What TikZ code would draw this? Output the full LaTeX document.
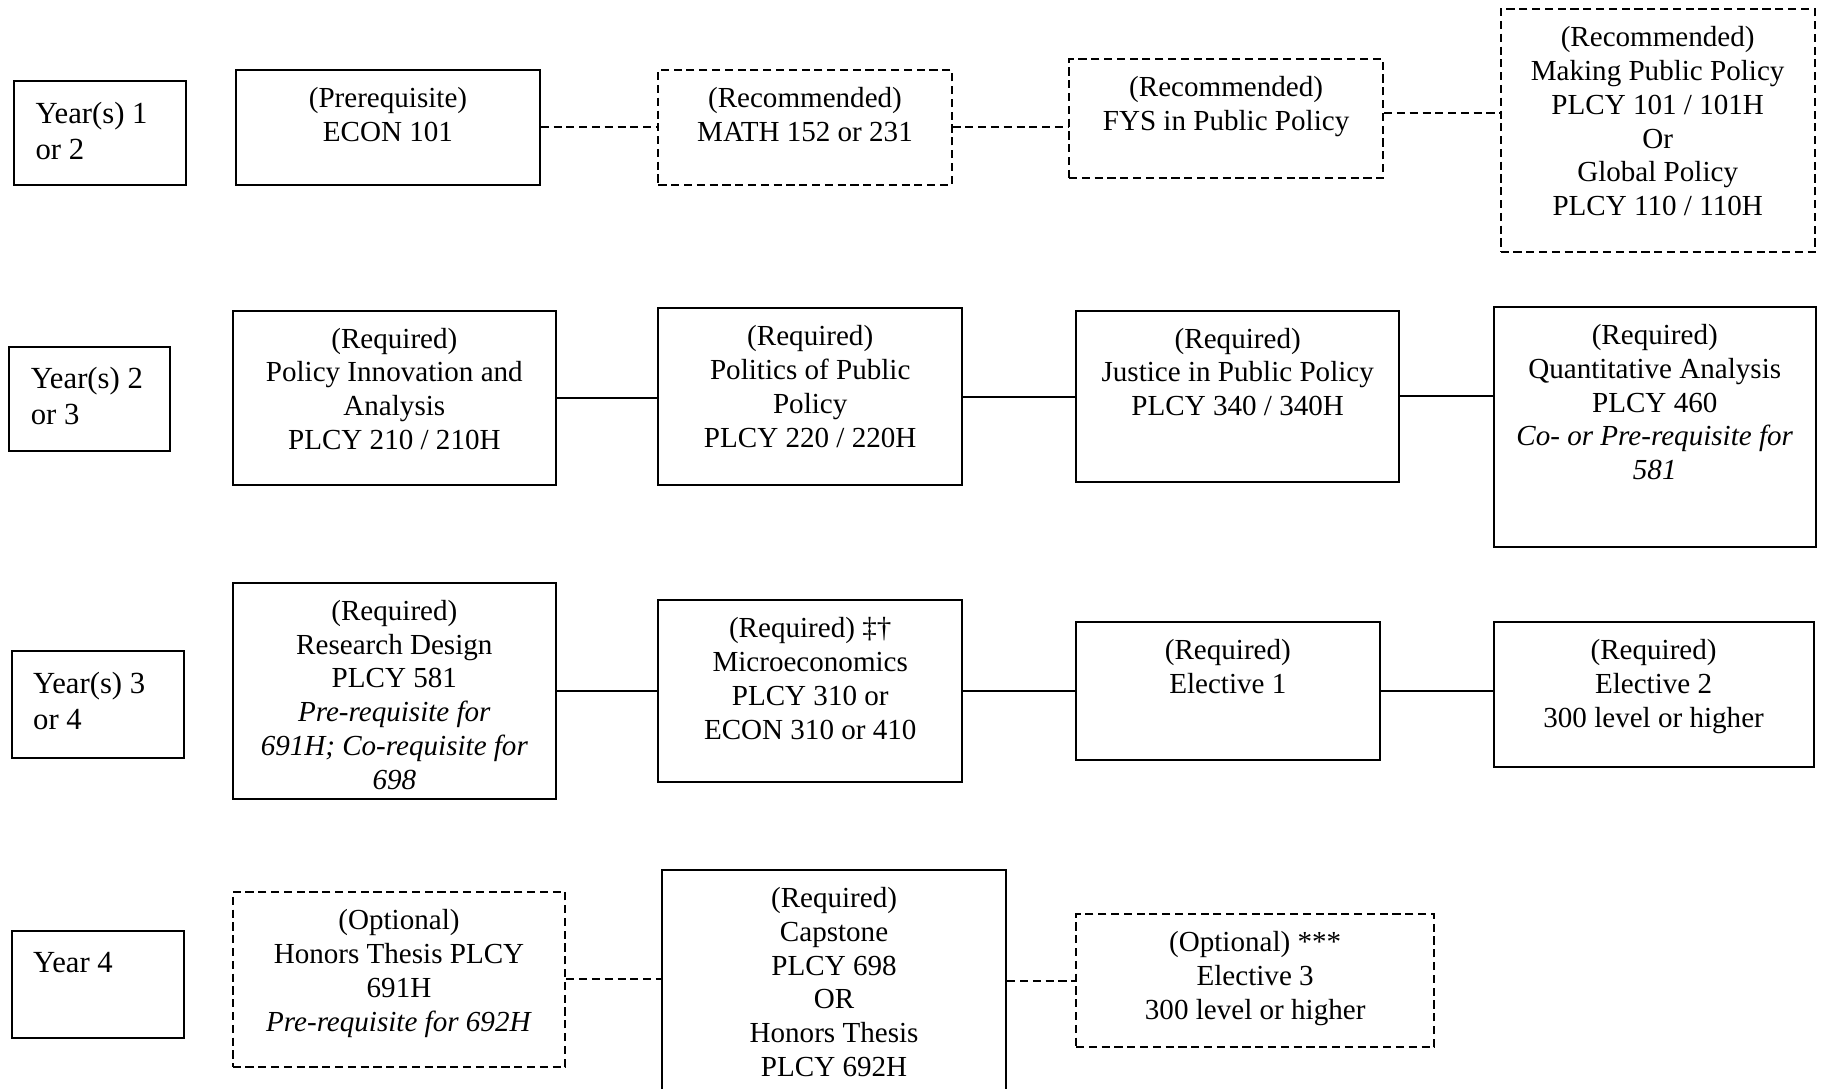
\documentclass[tikz,border=0pt]{standalone}
\usepackage{fontspec}
\setmainfont{Liberation Serif}
\usetikzlibrary{fit,positioning}
\begin{document}
\begin{tikzpicture}[x=0.5pt,y=-0.5pt,
  solidbox/.style={draw, line width=0.85pt, inner sep=0pt},
  dashbox/.style={solidbox, dash pattern=on 3.5pt off 2pt},
  txt/.style={align=center, inner sep=0pt, font=\fontsize{12.5}{14.5}\selectfont},
  ytxt/.style={align=left, inner sep=0pt, font=\fontsize{13.2}{15.5}\selectfont},
  link/.style={line width=0.85pt},
  dlink/.style={link, dash pattern=on 3.5pt off 2pt}
]
\useasboundingbox (0,0) rectangle (1568,936);
\clip (0,0) rectangle (1568,936);

% ---------- Row 1
\node[solidbox, fit={(12,70)(160,159)}] (y1) {};
\node[ytxt, below right=7.4pt and 9.5pt of y1.north west] (y1t) {\strut Year(s) 1\\or 2};
\node[solidbox, fit={(203,60)(464,159)}] (econ) {};
\node[txt, below=6.25pt of econ.north] (econt) {\strut(Prerequisite)\\ECON 101};
\node[dashbox, fit={(566,60)(818,159)}] (math) {};
\node[txt, below=6.25pt of math.north] (matht) {\strut(Recommended)\\MATH 152 or 231};
\node[dashbox, fit={(919,51)(1189,153)}] (fys) {};
\node[txt, below=6.25pt of fys.north] (fyst) {\strut(Recommended)\\FYS in Public Policy};
\node[dashbox, fit={(1290,8)(1560,217)}] (mpp) {};
\node[txt, below=6.25pt of mpp.north] (mppt) {\strut(Recommended)\\Making Public Policy\\PLCY 101 / 101H\\Or\\Global Policy\\PLCY 110 / 110H};

\draw[dlink] (econ.east) -- (math.west);
\draw[dlink] (math.east) -- (math.east -| fys.west);
\draw[dlink] ([yshift=2.3pt]fys.east) -- ([yshift=2.3pt]fys.east -| mpp.west);

% ---------- Row 2
\node[solidbox, fit={(8,298)(146,388)}] (y2) {};
\node[ytxt, below right=7.4pt and 9.5pt of y2.north west] (y2t) {\strut Year(s) 2\\or 3};
\node[solidbox, fit={(200,267)(478,417)}] (pia) {};
\node[txt, below=6.25pt of pia.north] (piat) {\strut(Required)\\Policy Innovation and\\Analysis\\PLCY 210 / 210H};
\node[solidbox, fit={(566,265)(827,417)}] (pol) {};
\node[txt, below=6.25pt of pol.north] (polt) {\strut(Required)\\Politics of Public\\Policy\\PLCY 220 / 220H};
\node[solidbox, fit={(925,267)(1203,414)}] (jus) {};
\node[txt, below=6.25pt of jus.north] (just) {\strut(Required)\\Justice in Public Policy\\PLCY 340 / 340H};
\node[solidbox, fit={(1284,264)(1561,470)}] (qa) {};
\node[txt, below=6.25pt of qa.north] (qat) {\strut(Required)\\Quantitative Analysis\\PLCY 460\\\textit{Co- or Pre-requisite for}\\\textit{581}};

\draw[link] (pia.east) -- (pia.east -| pol.west);
\draw[link] (pol.east) -- (pol.east -| jus.west);
\draw[link] (jus.east) -- (jus.east -| qa.west);

% ---------- Row 3
\node[solidbox, fit={(10,560)(158,652)}] (y3) {};
\node[ytxt, below right=7.4pt and 9.5pt of y3.north west] (y3t) {\strut Year(s) 3\\or 4};
\node[solidbox, fit={(200,501)(478,687)}] (rd) {};
\node[txt, below=6.25pt of rd.north] (rdt) {\strut(Required)\\Research Design\\PLCY 581\\\textit{Pre-requisite for}\\\textit{691H; Co-requisite for}\\\textit{698}};
\node[solidbox, fit={(566,516)(827,672)}] (mic) {};
\node[txt, below=6.25pt of mic.north] (mict) {\strut(Required) ‡†\\Microeconomics\\PLCY 310 or\\ECON 310 or 410};
\node[solidbox, fit={(925,535)(1186,653)}] (el1) {};
\node[txt, below=6.25pt of el1.north] (el1t) {\strut(Required)\\Elective 1};
\node[solidbox, fit={(1284,535)(1559,659)}] (el2) {};
\node[txt, below=6.25pt of el2.north] (el2t) {\strut(Required)\\Elective 2\\300 level or higher};

\draw[link] (rd.east) -- (rd.east -| mic.west);
\draw[link] (mic.east) -- (mic.east -| el1.west);
\draw[link] (el1.east) -- (el1.east -| el2.west);

% ---------- Row 4
\node[solidbox, fit={(10,800)(158,892)}] (y4) {};
\node[ytxt, below right=7.4pt and 9.5pt of y4.north west] (y4t) {\strut Year 4};
\node[dashbox, fit={(200,767)(486,917)}] (hon) {};
\node[txt, below=6.25pt of hon.north] (hont) {\strut(Optional)\\Honors Thesis PLCY\\691H\\\textit{Pre-requisite for 692H}};
\node[solidbox, fit={(569,748)(865,980)}] (cap) {};
\node[txt, below=6.25pt of cap.north] (capt) {\strut(Required)\\Capstone\\PLCY 698\\OR\\Honors Thesis\\PLCY 692H};
\node[dashbox, fit={(925,786)(1233,900)}] (el3) {};
\node[txt, below=6.25pt of el3.north] (el3t) {\strut(Optional) ***\\Elective 3\\300 level or higher};

\draw[dlink] (hon.east) -- (hon.east -| cap.west);
\draw[dlink] (el3.west -| cap.east) -- (el3.west);
\end{tikzpicture}
\end{document}
